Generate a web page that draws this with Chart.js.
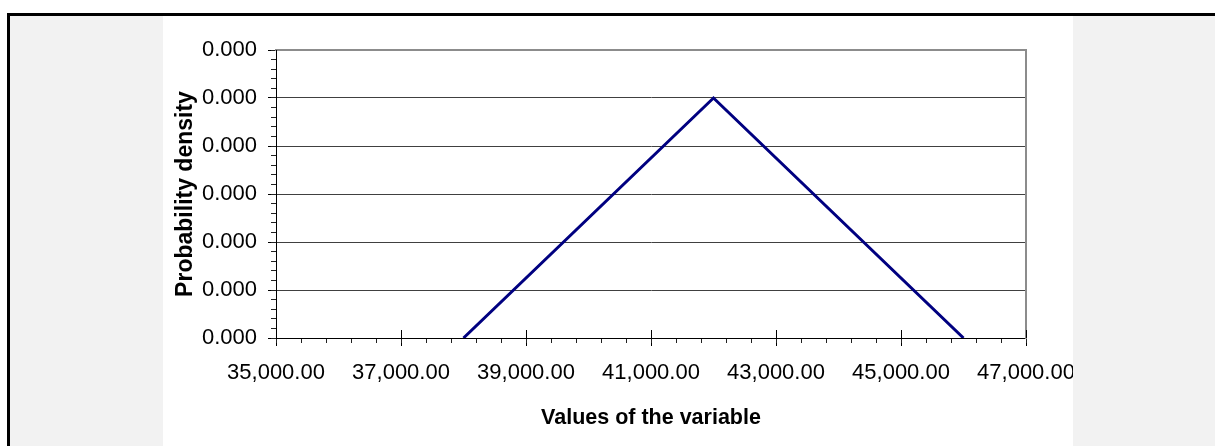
<!DOCTYPE html>
<html>
<head>
<meta charset="utf-8">
<script src="https://cdn.jsdelivr.net/npm/chart.js@4.4.0/dist/chart.umd.min.js"></script>
<style>
  html, body { margin: 0; padding: 0; background: #fff; }
  body { width: 1215px; height: 446px; position: relative; overflow: hidden; }
  #frame { position: absolute; left: 7px; top: 13px; right: 0; bottom: 0; border-top: 3px solid #000; border-left: 3px solid #000; background: #f2f2f2; }
  #panel { position: absolute; left: 163px; top: 16px; width: 910px; height: 430px; background: #fff; }
</style>
</head>
<body>
<div id="frame"></div>
<div id="panel"><canvas id="chart" width="910" height="430"></canvas></div>
<script>
// triangular density: min 38,000, mode 42,000, max 46,000
const xValues = [38000, 42000, 46000];
const densityValues = [0, 0.00025, 0];

// axis ranges and tick steps
const xRange = [35000, 47000];
const xMajorStep = 2000;
const xMinorStep = 400;
const yRange = [0, 0.0003];
const yMajorStep = 0.00005;
const yMinorStep = 0.00001;

const xTitle = 'Values of the variable';
const yTitle = 'Probability density';

const FONT = '"Liberation Sans", Arial, sans-serif';

// fixes an axis box size so the plot area lands where the reference has it
const fixSize = (w, h) => scale => {
    if (w !== undefined) scale.width = w;
    if (h !== undefined) scale.height = h;
    scale.paddingLeft = scale.paddingRight = scale.paddingTop = scale.paddingBottom = 0;
};

// Excel style: major ticks on the x axis also cross into the plot
const tickStubs = {
    id: 'tickStubs',
    afterDraw(chart) {
        const x = chart.scales.x;
        const ctx = chart.ctx;
        const bottom = chart.chartArea.bottom;
        ctx.save();
        ctx.strokeStyle = '#000';
        ctx.lineWidth = 1;
        x.ticks.forEach(t => {
            const px = Math.round(x.getPixelForValue(t.value)) + 0.5;
            ctx.beginPath();
            ctx.moveTo(px, bottom - 8);
            ctx.lineTo(px, bottom);
            ctx.stroke();
        });
        ctx.restore();
    }
};

const points = xValues.map((x, i) => ({ x: x, y: densityValues[i] }));

new Chart(document.getElementById('chart'), {
    type: 'line',
    data: {
        datasets: [{
            data: points,
            borderColor: '#000080',
            borderWidth: 3,
            pointRadius: 0,
            tension: 0,
            fill: false,
            xAxisID: 'x',
            yAxisID: 'y'
        }]
    },
    options: {
        responsive: false,
        animation: false,
        layout: { padding: { top: 34, right: 47, bottom: 0, left: 0 } },
        plugins: { legend: { display: false }, tooltip: { enabled: false } },
        scales: {
            x: {
                type: 'linear',
                position: 'bottom',
                weight: 1,
                min: xRange[0],
                max: xRange[1],
                ticks: {
                    stepSize: xMajorStep,
                    maxRotation: 0,
                    autoSkip: false,
                    padding: 14,
                    color: '#000',
                    font: { family: FONT, size: 22 },
                    callback: v => v.toLocaleString('en-US', { minimumFractionDigits: 2, maximumFractionDigits: 2 })
                },
                grid: { drawOnChartArea: false, tickLength: 8, color: '#000' },
                border: { color: '#000', width: 1 },
                title: {
                    display: true,
                    text: xTitle,
                    color: '#000',
                    font: { family: FONT, size: 21.5, weight: 'bold' },
                    padding: { top: 0, bottom: 15 }
                },
                afterFit: fixSize(undefined, 108)
            },
            xMinor: {
                type: 'linear',
                position: 'bottom',
                weight: 0,
                min: xRange[0],
                max: xRange[1],
                ticks: { stepSize: xMinorStep, display: false, autoSkip: false },
                grid: { drawOnChartArea: false, tickLength: 5, color: '#222' },
                border: { display: false },
                afterFit: fixSize(undefined, 0)
            },
            xTop: {
                type: 'linear',
                position: 'top',
                min: 0,
                max: 1,
                ticks: { display: false },
                grid: { drawOnChartArea: false, drawTicks: false },
                border: { color: '#8c8c8c', width: 2 },
                afterFit: fixSize(undefined, 0)
            },
            y: {
                type: 'linear',
                position: 'left',
                weight: 1,
                min: yRange[0],
                max: yRange[1],
                ticks: {
                    stepSize: yMajorStep,
                    autoSkip: false,
                    padding: 11,
                    color: '#000',
                    font: { family: FONT, size: 22 },
                    callback: v => v.toFixed(3)
                },
                grid: { color: '#404040', lineWidth: 1, tickLength: 8, tickColor: '#000' },
                border: { color: '#000', width: 1 },
                title: {
                    display: true,
                    text: yTitle,
                    color: '#000',
                    font: { family: FONT, size: 23, weight: 'bold' },
                    padding: { top: 9, bottom: 0 }
                },
                afterFit: fixSize(113, undefined)
            },
            yMinor: {
                type: 'linear',
                position: 'left',
                weight: 0,
                min: yRange[0],
                max: yRange[1],
                ticks: { stepSize: yMinorStep, display: false, autoSkip: false },
                grid: { drawOnChartArea: false, tickLength: 5, color: '#222' },
                border: { display: false },
                afterFit: fixSize(0, undefined)
            },
            yRight: {
                type: 'linear',
                position: 'right',
                min: 0,
                max: 1,
                ticks: { display: false },
                grid: { drawOnChartArea: false, drawTicks: false },
                border: { color: '#8c8c8c', width: 2 },
                afterFit: fixSize(0, undefined)
            }
        }
    },
    plugins: [tickStubs]
});
</script>
</body>
</html>
